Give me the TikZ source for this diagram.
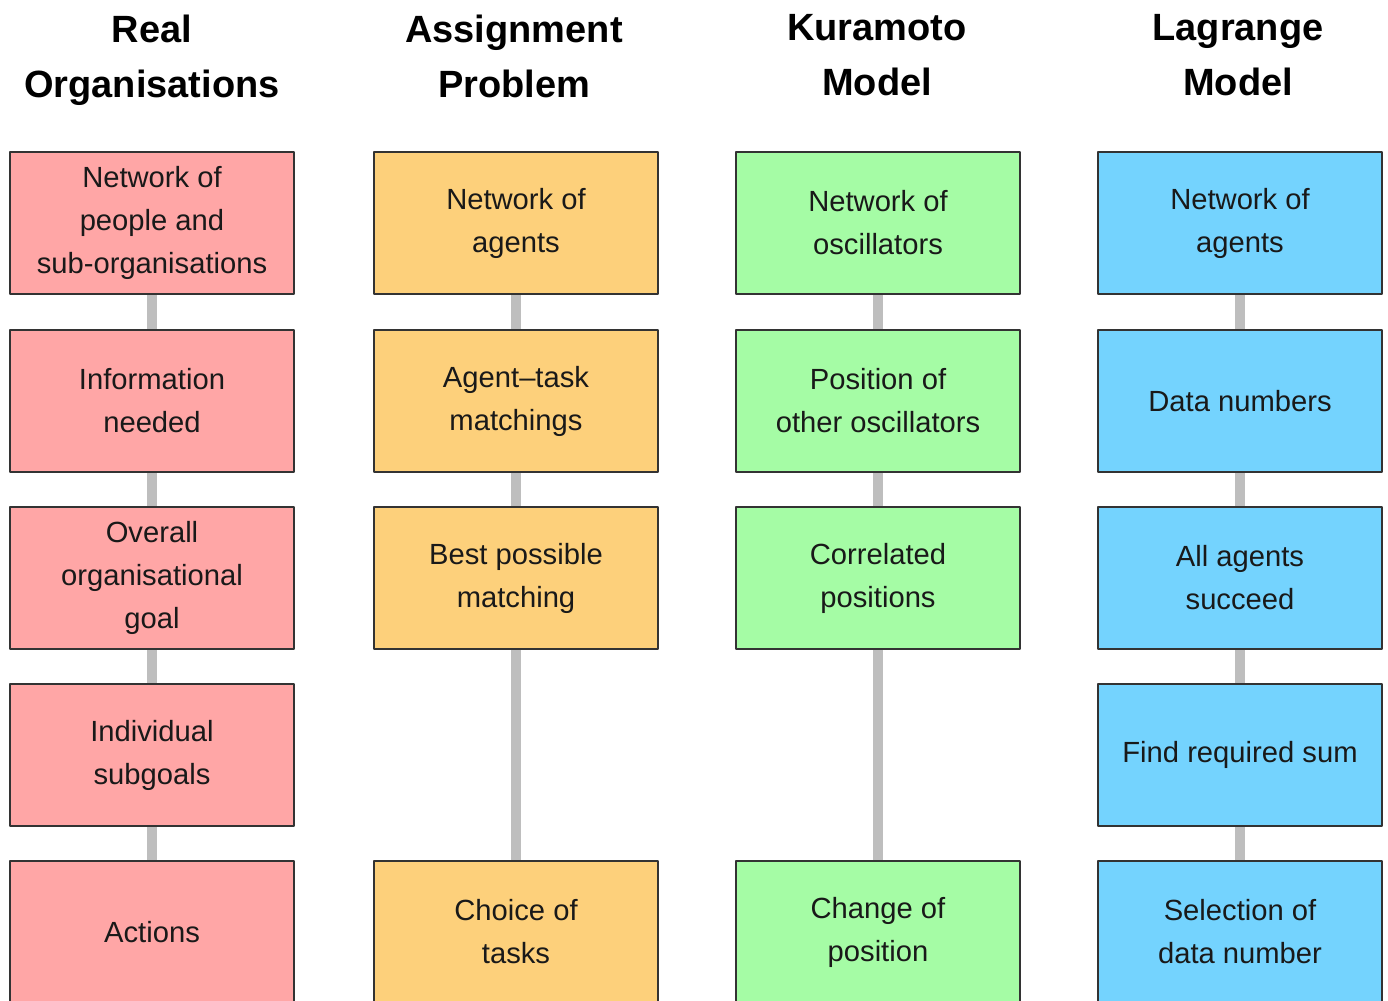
\documentclass[tikz,border=0pt]{standalone}
\usepackage{fontspec}
\setmainfont{Liberation Sans}
\definecolor{pinkbox}{HTML}{FFA6A6}
\definecolor{orangebox}{HTML}{FDD07B}
\definecolor{greenbox}{HTML}{A5FCA5}
\definecolor{bluebox}{HTML}{74D3FE}
\definecolor{linkgray}{HTML}{BEBEBE}

\begin{document}
\begin{tikzpicture}[
    x = 0.01cm, y = -0.01cm,
    line join=round,
    box/.style = {draw=black!80, line width=0.6pt, minimum width=2.84cm, minimum height=1.42cm,
        inner sep=0pt, align=center, text=black!90, font=\fontsize{8.3}{12.2}\selectfont},
    head/.style = {anchor=north, inner sep=0pt, align=center, font=\bfseries\fontsize{10.8}{15.6}\selectfont},
    link/.style = {line width=0.1cm, draw=linkgray}
]

    \useasboundingbox (0,0) rectangle (1388,1000);
    \clip (0,0) rectangle (1388,1000);

    % column headings
    \node[head] (hr) at (152,14) {Real\\Organisations};
    \node[head] (ha) at (514,14) {Assignment\\Problem};
    \node[head] (hk) at (877,14) {Kuramoto\\Model};
    \node[head] (hl) at (1238,14) {Lagrange\\Model};

    % real organisations
    \node[box, fill=pinkbox] (r1) at (152,223) {Network of\\people and\\sub-organisations};
    \node[box, fill=pinkbox] (r2) at (152,401) {Information\\needed};
    \node[box, fill=pinkbox] (r3) at (152,578) {Overall\\organisational\\goal};
    \node[box, fill=pinkbox] (r4) at (152,755) {Individual\\subgoals};
    \node[box, fill=pinkbox] (r5) at (152,932) {Actions};

    % assignment problem
    \node[box, fill=orangebox] (a1) at (516,223) {Network of\\agents};
    \node[box, fill=orangebox] (a2) at (516,401) {Agent--task\\matchings};
    \node[box, fill=orangebox] (a3) at (516,578) {Best possible\\matching};
    \node[box, fill=orangebox] (a5) at (516,932) {Choice of\\tasks};

    % kuramoto model
    \node[box, fill=greenbox] (k1) at (878,223) {Network of\\oscillators};
    \node[box, fill=greenbox] (k2) at (878,401) {Position of\\other oscillators};
    \node[box, fill=greenbox] (k3) at (878,578) {Correlated\\positions};
    \node[box, fill=greenbox] (k5) at (878,932) {Change of\\position};

    % lagrange model
    \node[box, fill=bluebox] (l1) at (1240,223) {Network of\\agents};
    \node[box, fill=bluebox] (l2) at (1240,401) {Data numbers};
    \node[box, fill=bluebox] (l3) at (1240,578) {All agents\\succeed};
    \node[box, fill=bluebox] (l4) at (1240,755) {Find required sum};
    \node[box, fill=bluebox] (l5) at (1240,932) {Selection of\\data number};

    \foreach \c in {r, l} {
        \foreach \i/\j in {1/2, 2/3, 3/4, 4/5} {
            \draw[link] (\c\i.south) -- (\c\j.north);
        }
    }
    \foreach \c in {a, k} {
        \foreach \i/\j in {1/2, 2/3, 3/5} {
            \draw[link] (\c\i.south) -- (\c\j.north);
        }
    }

\end{tikzpicture}
\end{document}
